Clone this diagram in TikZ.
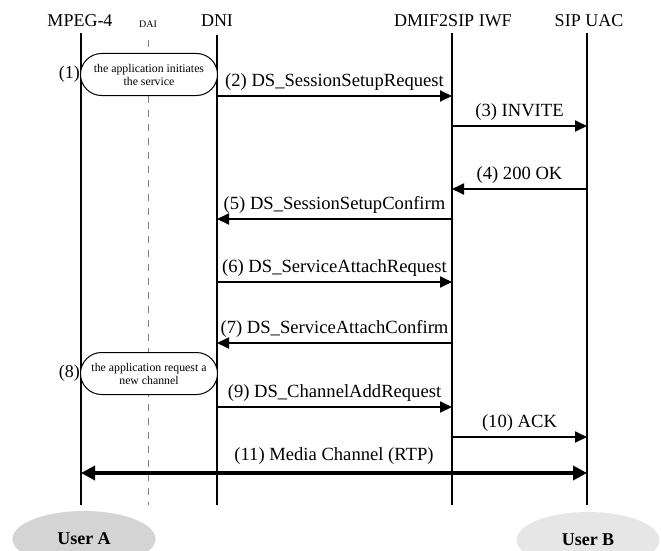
\documentclass[tikz,border=0pt]{standalone}
\usepackage{fontspec}
\setmainfont{Liberation Serif}
\usetikzlibrary{arrows.meta,shapes.geometric,shapes.misc}
\tikzset{
  life/.style={line width=2.6pt},
  dai/.style={line width=1pt,draw=gray,dash pattern=on 7pt off 7pt},
  msg/.style={line width=1.8pt,-{Triangle[length=12pt,width=11pt]}},
  media/.style={line width=3.6pt,{Triangle[length=14pt,width=14pt]}-{Triangle[length=14pt,width=14pt]}},
  lbl/.style={font=\fontsize{18.6}{20}\selectfont,above,inner sep=0pt,yshift=5pt},
  hdr/.style={font=\fontsize{18}{20}\selectfont,inner sep=0pt},
  appbox/.style={rounded rectangle,draw,line width=1pt,fill=white,minimum width=137pt,minimum height=42pt,inner sep=0pt,align=center,font=\fontsize{11.8}{13}\selectfont},
  num/.style={font=\fontsize{18}{20}\selectfont,inner sep=0pt,anchor=east},
  user/.style={ellipse,minimum width=143pt,minimum height=56pt,inner sep=0pt,font=\bfseries\fontsize{18}{20}\selectfont}
}
\begin{document}
\begin{tikzpicture}[x=1pt,y=-1pt]
\useasboundingbox (0,0) rectangle (661,551);
\clip (0,0) rectangle (661,551);
% headers
\node[hdr] (hmp) at (80,21) {MPEG-4};
\node[hdr,font=\fontsize{10}{11}\selectfont] (hdai) at (148,24) {DAI};
\node[hdr] (hdni) at (217,21) {DNI};
\node[hdr] (hiwf) at (453,21) {DMIF2SIP IWF};
\node[hdr] (huac) at (589,21) {SIP UAC};
% lifelines
\coordinate (mpT) at (81,33);  \coordinate (mpB) at (81,505);
\coordinate (daT) at (148,40); \coordinate (daB) at (148,505);
\coordinate (dnT) at (217,35); \coordinate (dnB) at (217,505);
\coordinate (iwT) at (452,33); \coordinate (iwB) at (452,505);
\coordinate (uaT) at (587,33); \coordinate (uaB) at (587,505);
\draw[life] (mpT) -- (mpB);
\draw[dai] (daT) -- (daB);
\draw[life] (dnT) -- (dnB);
\draw[life] (iwT) -- (iwB);
\draw[life] (uaT) -- (uaB);
% application boxes
\node[appbox] (b1) at (149,74.5) {the application initiates\\the service};
\node[num] (n1) at (b1.west) {(1)};
\node[appbox] (b8) at (149,373.5) {the application request a\\new channel};
\node[num] (n8) at (b8.west) {(8)};
% messages
\coordinate (m2a) at (217,96);  \coordinate (m2b) at (452,96);
\coordinate (m3a) at (452,126); \coordinate (m3b) at (587,126);
\coordinate (m4a) at (587,189); \coordinate (m4b) at (452,189);
\coordinate (m5a) at (452,219); \coordinate (m5b) at (217,219);
\coordinate (m6a) at (217,282); \coordinate (m6b) at (452,282);
\coordinate (m7a) at (452,343); \coordinate (m7b) at (217,343);
\coordinate (m9a) at (217,407); \coordinate (m9b) at (452,407);
\coordinate (m10a) at (452,437); \coordinate (m10b) at (587,437);
\coordinate (m11a) at (81,473); \coordinate (m11b) at (587,473);
\draw[msg] (m2a) -- node[lbl] {(2) DS\_SessionSetupRequest} (m2b);
\draw[msg] (m3a) -- node[lbl] {(3) INVITE} (m3b);
\draw[msg] (m4a) -- node[lbl] {(4) 200 OK} (m4b);
\draw[msg] (m5a) -- node[lbl] {(5) DS\_SessionSetupConfirm} (m5b);
\draw[msg] (m6a) -- node[lbl] {(6) DS\_ServiceAttachRequest} (m6b);
\draw[msg] (m7a) -- node[lbl] {(7) DS\_ServiceAttachConfirm} (m7b);
\draw[msg] (m9a) -- node[lbl] {(9) DS\_ChannelAddRequest} (m9b);
\draw[msg] (m10a) -- node[lbl] {(10) ACK} (m10b);
\draw[media] (m11a) -- node[lbl,yshift=2pt] {(11) Media Channel (RTP)} (m11b);
% users
\node[user,fill={rgb,255:red,212;green,212;blue,212}] (ua) at (84,539) {User A};
\node[user,fill={rgb,255:red,230;green,230;blue,230}] (ub) at (588,540) {User B};
\end{tikzpicture}
\end{document}
